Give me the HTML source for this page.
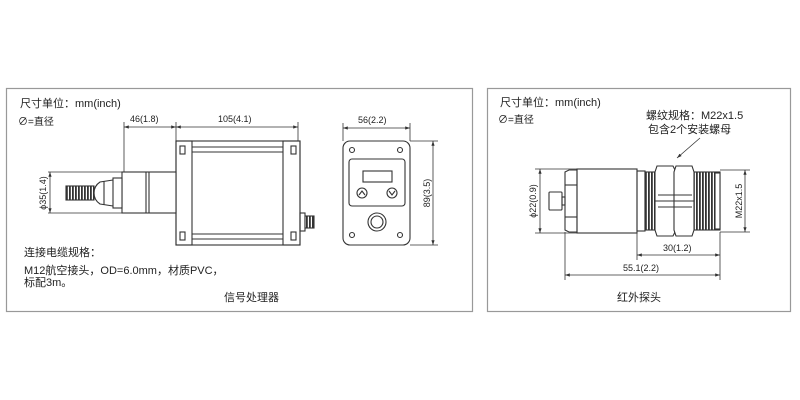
<!DOCTYPE html>
<html><head><meta charset="utf-8"><style>
html,body{margin:0;padding:0;background:#fff;}
svg{display:block;}
text{font-family:"Liberation Sans","Noto Sans CJK SC",sans-serif;fill:#222;}
</style></head><body>
<svg width="800" height="400" viewBox="0 0 800 400" xmlns="http://www.w3.org/2000/svg">
<defs>
<marker id="a" markerWidth="6" markerHeight="6" refX="6" refY="3" orient="auto-start-reverse"><path d="M0,1 L6,3 L0,5z" fill="#333"/></marker>
<pattern id="th" width="3" height="4" patternUnits="userSpaceOnUse"><rect width="3" height="4" fill="#fff"/><rect width="1.8" height="4" fill="#333"/></pattern>
</defs>
<rect x="6.5" y="88.5" width="466" height="223" fill="none" stroke="#999" stroke-width="1.2"/>
<rect x="487.5" y="88.5" width="303" height="223" fill="none" stroke="#999" stroke-width="1.2"/>

<g font-size="11">
<text x="20" y="107">尺寸单位：mm(inch)</text>
<text x="18" y="125" font-size="10">∅=直径</text>
<text x="24" y="256">连接电缆规格：</text>
<text x="24" y="274">M12航空接头，OD=6.0mm，材质PVC，</text>
<text x="24" y="286">标配3m。</text>
<text x="224" y="301">信号处理器</text>
<text x="500" y="106">尺寸单位：mm(inch)</text>
<text x="498" y="123" font-size="10">∅=直径</text>
<text x="646" y="119">螺纹规格：M22x1.5</text>
<text x="648" y="133">包含2个安装螺母</text>
<text x="617" y="301">红外探头</text>
</g>

<g stroke="#333" stroke-width="0.8" fill="none">
<line x1="124" y1="122" x2="124" y2="172"/><line x1="176" y1="122" x2="176" y2="141"/><line x1="298" y1="122" x2="298" y2="141"/>
<line x1="124" y1="127" x2="176" y2="127" marker-start="url(#a)" marker-end="url(#a)"/>
<line x1="176" y1="127" x2="298" y2="127" marker-start="url(#a)" marker-end="url(#a)"/>
<line x1="48" y1="172" x2="122" y2="172"/><line x1="48" y1="213" x2="122" y2="213"/>
<line x1="50" y1="172" x2="50" y2="213" marker-start="url(#a)" marker-end="url(#a)"/>
</g>
<g stroke="#333" stroke-width="1.1" fill="none">
<rect x="176" y="141" width="124" height="104" fill="#fff"/>
<rect x="176" y="141" width="16" height="104"/><rect x="283" y="141" width="17" height="104"/>
<line x1="192" y1="147" x2="283" y2="147"/><line x1="192" y1="152" x2="283" y2="152"/>
<line x1="192" y1="234" x2="283" y2="234"/><line x1="192" y1="239" x2="283" y2="239"/>
<rect x="180" y="146" width="5" height="8"/><rect x="291" y="146" width="5" height="8"/>
<rect x="180" y="232" width="5" height="8"/><rect x="291" y="232" width="5" height="8"/>
<rect x="122" y="172" width="54" height="41" fill="#fff"/>
<line x1="146" y1="172" x2="146" y2="213"/><line x1="149" y1="172" x2="149" y2="213"/>
<rect x="113" y="178" width="9" height="30" fill="#fff"/>
<path d="M113,180 L100,182 Q94,186 94,193 Q94,200 100,204 L113,206"/>
<line x1="104" y1="181" x2="104" y2="205"/>
<rect x="66" y="186" width="28" height="14" fill="url(#th)" stroke="#333"/>
<rect x="300" y="213" width="5" height="18"/><rect x="305" y="216" width="9" height="12" fill="url(#th)"/>
<rect x="343" y="141" width="67" height="104" rx="7"/>
<rect x="349" y="159" width="56" height="47" rx="3"/>
<rect x="363" y="171" width="29" height="11"/>
<circle cx="362" cy="193" r="5"/><path d="M359,195 L362,191 L365,195"/>
<circle cx="392" cy="193" r="5"/><path d="M389,191 L392,195 L395,191"/>
<circle cx="377" cy="222" r="9"/><circle cx="377" cy="222" r="6"/>
<circle cx="352" cy="150" r="2.5"/><circle cx="400" cy="150" r="2.5"/>
<circle cx="352" cy="235" r="2.5"/><circle cx="400" cy="235" r="2.5"/>
</g>
<g stroke="#333" stroke-width="0.8" fill="none">
<line x1="343" y1="123" x2="343" y2="141"/><line x1="410" y1="123" x2="410" y2="141"/>
<line x1="343" y1="128" x2="410" y2="128" marker-start="url(#a)" marker-end="url(#a)"/>
<line x1="410" y1="141" x2="438" y2="141"/><line x1="410" y1="245" x2="438" y2="245"/>
<line x1="433" y1="141" x2="433" y2="245" marker-start="url(#a)" marker-end="url(#a)"/>
</g>
<g stroke="#333" stroke-width="1.1" fill="none">
<rect x="549" y="192" width="13" height="18" rx="1"/>
<rect x="562" y="197" width="3" height="8"/>
<path d="M565,172 L569,170 L577,170 L577,232 L569,232 L565,230z"/>
<line x1="565" y1="185" x2="577" y2="185"/><line x1="565" y1="217" x2="577" y2="217"/>
<rect x="577" y="169" width="60" height="64"/>
<rect x="637" y="171" width="8" height="60"/>
<rect x="645" y="172" width="75" height="58" fill="url(#th)"/>
<rect x="715" y="173" width="5" height="56" fill="#fff"/>
<path d="M657,166 L673,166 L676,172 L676,230 L673,236 L657,236 L655,230 L655,172z" fill="#fff"/>
<path d="M676,166 L692,166 L694,172 L694,230 L692,236 L676,236 L674,230 L674,172z" fill="#fff"/>
<line x1="655" y1="201" x2="694" y2="201"/><line x1="658" y1="195" x2="692" y2="195"/><line x1="658" y1="207" x2="692" y2="207"/>
</g>
<g stroke="#333" stroke-width="0.8" fill="none">
<line x1="535" y1="169" x2="577" y2="169"/><line x1="535" y1="233" x2="577" y2="233"/>
<line x1="540" y1="169" x2="540" y2="233" marker-start="url(#a)" marker-end="url(#a)"/>
<line x1="720" y1="170" x2="750" y2="170"/><line x1="720" y1="232" x2="750" y2="232"/>
<line x1="745" y1="170" x2="745" y2="232" marker-start="url(#a)" marker-end="url(#a)"/>
<line x1="637" y1="233" x2="637" y2="260"/><line x1="720" y1="232" x2="720" y2="280"/>
<line x1="565" y1="232" x2="565" y2="280"/>
<line x1="637" y1="255" x2="720" y2="255" marker-start="url(#a)" marker-end="url(#a)"/>
<line x1="565" y1="275" x2="720" y2="275" marker-start="url(#a)" marker-end="url(#a)"/>
<line x1="700" y1="138" x2="677" y2="158" marker-end="url(#a)"/>
</g>

<g font-size="9">
<text x="130" y="122">46(1.8)</text>
<text x="218" y="122">105(4.1)</text>
<text x="358" y="123">56(2.2)</text>
<text x="663" y="251">30(1.2)</text>
<text x="623" y="271">55.1(2.2)</text>
<text transform="translate(46,193) rotate(-90)" text-anchor="middle">ϕ35(1.4)</text>
<text transform="translate(430,193) rotate(-90)" text-anchor="middle">89(3.5)</text>
<text transform="translate(536,201) rotate(-90)" text-anchor="middle">ϕ22(0.9)</text>
<text transform="translate(742,201) rotate(-90)" text-anchor="middle">M22x1.5</text>
</g>
</svg>
</body></html>
